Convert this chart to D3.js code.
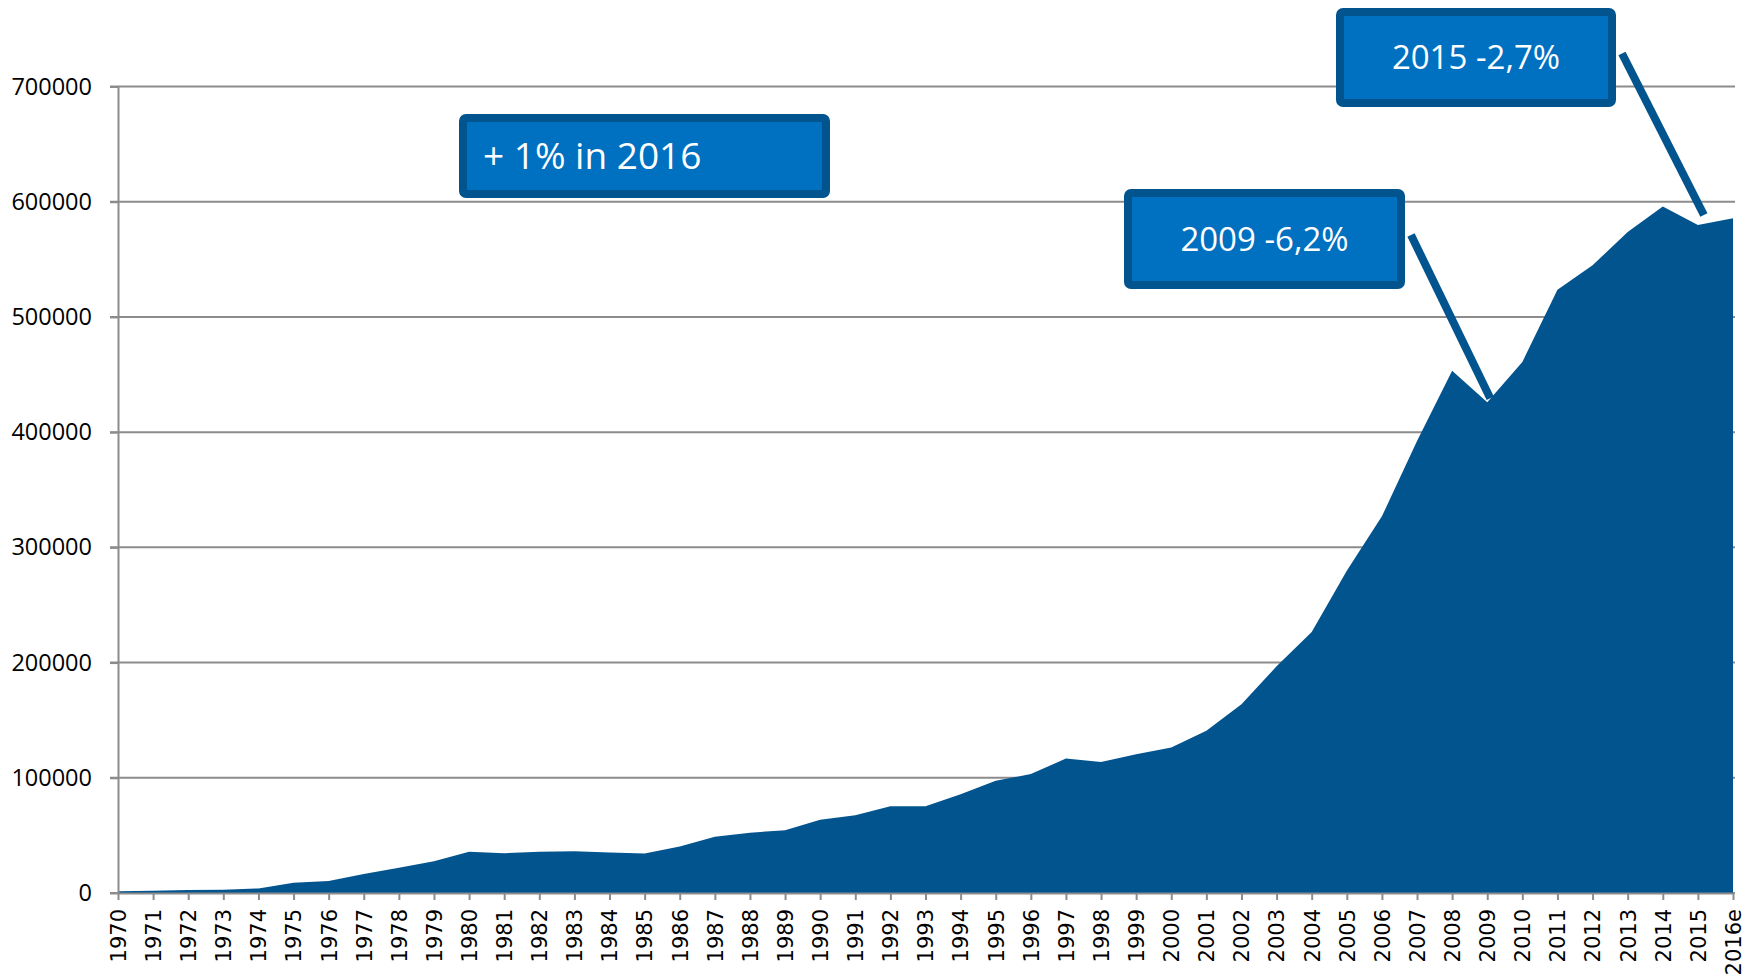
<!DOCTYPE html>
<html>
<head>
<meta charset="utf-8">
<script src="https://cdn.jsdelivr.net/npm/d3@7"></script>
<style>
  html, body { margin: 0; padding: 0; background: #ffffff; overflow: hidden; }
  svg { display: block; }
</style>
</head>
<body>
<svg id="chart" width="1742" height="979"></svg>
<script>
// Yearly values, 1970 to the 2016 estimate
const years = ["1970","1971","1972","1973","1974","1975","1976","1977","1978","1979",
  "1980","1981","1982","1983","1984","1985","1986","1987","1988","1989",
  "1990","1991","1992","1993","1994","1995","1996","1997","1998","1999",
  "2000","2001","2002","2003","2004","2005","2006","2007","2008","2009",
  "2010","2011","2012","2013","2014","2015","2016e"];
const values = [1500, 2000, 2500, 2800, 4000, 9000, 10500, 16500, 22000, 27600,
  35800, 34600, 35800, 36300, 35200, 34300, 40400, 48800, 52300, 54500,
  63600, 67500, 75200, 75200, 85800, 97400, 103200, 116700, 113800, 120500,
  126300, 140800, 163900, 196700, 226600, 279600, 326900, 392400, 453200, 426000,
  460900, 523600, 544800, 573700, 595900, 579800, 585600];
const yTicks = [0, 100000, 200000, 300000, 400000, 500000, 600000, 700000];

// Callouts: label text, the year/value the pointer refers to (null = no pointer)
const calloutText = ["+ 1% in 2016", "2009 -6,2%", "2015 -2,7%"];
const calloutYear = [null, "2009", "2015"];
const calloutValue = [null, 426000, 579800];

const W = 1742, H = 979;
const margin = { left: 118, right: 9, top: 86.5, bottom: 86 };
const x0 = margin.left, x1 = W - margin.right;
const yTop = margin.top, yBottom = H - margin.bottom;

const svg = d3.select("#chart");

const x = d3.scalePoint().domain(years).range([x0, x1]);
const y = d3.scaleLinear().domain([0, 700000]).range([yBottom, yTop]);

const gridColor = "#8c8c8c";
const darkBlue = "#02548f";

// Horizontal gridlines (extend a little to the left as tick marks)
svg.append("g")
  .selectAll("line")
  .data(yTicks)
  .join("line")
  .attr("x1", x0 - 8)
  .attr("x2", 1735)
  .attr("y1", d => y(d))
  .attr("y2", d => y(d))
  .attr("stroke", gridColor)
  .attr("stroke-width", 2);

// Area
const area = d3.area()
  .x((d, i) => x(years[i]))
  .y0(y(0))
  .y1(d => y(d));

svg.append("path")
  .datum(values)
  .attr("d", area)
  .attr("fill", darkBlue);

// Y axis
const yAxis = svg.append("g")
  .attr("transform", `translate(${x0},0)`)
  .call(d3.axisLeft(y).tickValues(yTicks).tickFormat(d3.format("d")).tickSize(8).tickSizeOuter(0));
yAxis.select(".domain").attr("stroke", gridColor).attr("stroke-width", 2);
yAxis.selectAll(".tick line").attr("stroke", gridColor).attr("stroke-width", 2);
yAxis.selectAll(".tick text")
  .attr("x", -26)
  .attr("fill", "#000")
  .style("font-family", "'Open Sans', sans-serif")
  .style("font-size", "23.5px");

// X axis
const xAxis = svg.append("g")
  .attr("transform", `translate(0,${yBottom})`)
  .call(d3.axisBottom(x).tickSize(7).tickSizeOuter(0));
xAxis.select(".domain").attr("stroke", gridColor).attr("stroke-width", 2);
xAxis.selectAll(".tick line").attr("stroke", gridColor).attr("stroke-width", 2);
xAxis.selectAll(".tick text")
  .attr("transform", "rotate(-90)")
  .attr("text-anchor", "end")
  .attr("x", -16)
  .attr("y", 0)
  .attr("dy", "0.35em")
  .attr("fill", "#000")
  .style("font-family", "'DejaVu Sans', sans-serif")
  .style("font-size", "21px");

// Callout boxes
const boxes = [
  { x: 463, y: 118, w: 363, h: 76, align: "start", tx: 483, size: 37 },
  { x: 1128, y: 193, w: 273, h: 92, align: "middle", size: 33 },
  { x: 1340, y: 12, w: 272, h: 91, align: "middle", size: 33 }
];
const pointerOffset = [null, { dx: 3, dy: -4 }, { dx: 6, dy: -10 }];

const callouts = svg.append("g");
calloutText.forEach((t, i) => {
  const b = boxes[i];
  if (calloutYear[i] !== null) {
    const px = x(calloutYear[i]) + pointerOffset[i].dx;
    const py = y(calloutValue[i]) + pointerOffset[i].dy;
    callouts.append("line")
      .attr("x1", b.x + b.w + 10)
      .attr("y1", b.y + b.h / 2 - 4)
      .attr("x2", px)
      .attr("y2", py)
      .attr("stroke", darkBlue)
      .attr("stroke-width", 8);
  }
  callouts.append("rect")
    .attr("x", b.x).attr("y", b.y)
    .attr("width", b.w).attr("height", b.h)
    .attr("rx", 3)
    .attr("fill", "#0070c0")
    .attr("stroke", darkBlue)
    .attr("stroke-width", 8);
  callouts.append("text")
    .attr("x", b.align === "start" ? b.tx : b.x + b.w / 2)
    .attr("y", b.y + b.h / 2)
    .attr("dy", "0.36em")
    .attr("text-anchor", b.align)
    .attr("fill", "#ffffff")
    .style("font-family", "'Open Sans', sans-serif")
    .style("font-size", b.size + "px")
    .text(t);
});
</script>
</body>
</html>
